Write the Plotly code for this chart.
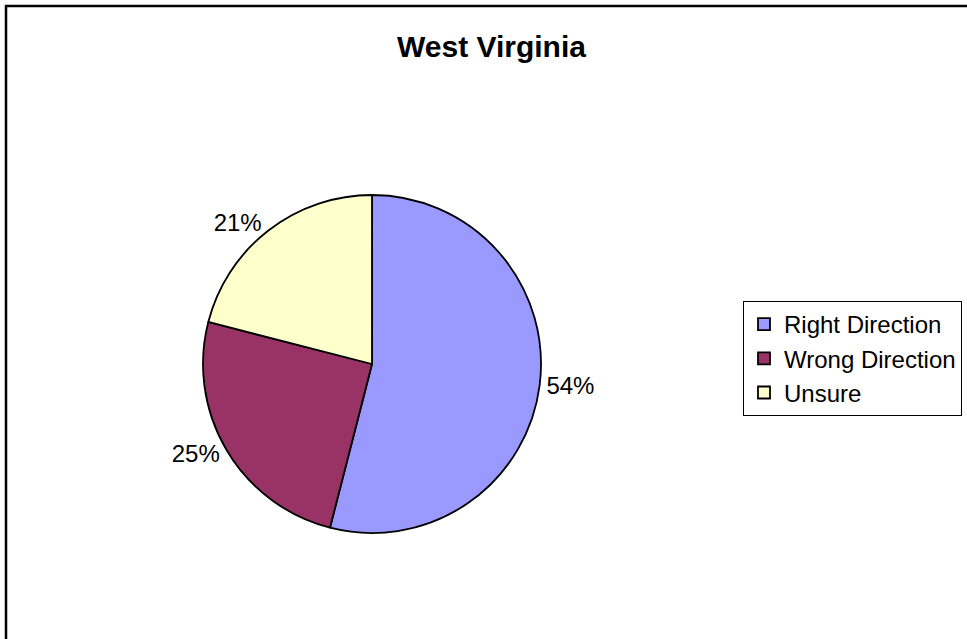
import plotly.graph_objects as go

labels = ["Right Direction", "Wrong Direction", "Unsure"]
values = [54, 25, 21]
colors = ["#9999FF", "#993366", "#FFFFCC"]

W, H = 967, 639
cx, cy, r = 372, 364, 169
FONT = "Liberation Sans, Arial"

fig = go.Figure(go.Pie(
    labels=labels, values=values, sort=False, direction="clockwise", rotation=0,
    marker=dict(colors=colors, line=dict(color="black", width=1.8)),
    textinfo="percent", textposition="outside",
    texttemplate="%{percent:.0%}",
    textfont=dict(family=FONT, size=24, color="black"),
    domain=dict(x=[(cx - r) / W, (cx + r) / W], y=[(H - cy - r) / H, (H - cy + r) / H]),
    hoverinfo="label+percent",
))

fig.update_layout(
    width=W, height=H, margin=dict(l=0, r=0, t=0, b=0),
    paper_bgcolor="white", plot_bgcolor="white",
    font=dict(family=FONT, color="black"),
    title=dict(text="<b>West Virginia</b>", x=491.5 / W, xanchor="center", y=1 - 46 / H, yanchor="middle",
               font=dict(size=30, family=FONT, color="black")),
    legend=dict(x=743 / W, y=1 - 301 / H, xanchor="left", yanchor="top",
                bordercolor="black", borderwidth=1, bgcolor="white",
                entrywidth=240, entrywidthmode="pixels",
                font=dict(size=24, family=FONT, color="black")),
    shapes=[dict(type="rect", xref="paper", yref="paper", x0=6 / W, x1=1.01, y0=-0.01, y1=1 - 6 / H,
                 line=dict(color="black", width=2.5))],
)

fig.write_html("out.html", config={"displayModeBar": False},
               post_script="document.body.style.margin='0';document.body.style.overflow='hidden';")
